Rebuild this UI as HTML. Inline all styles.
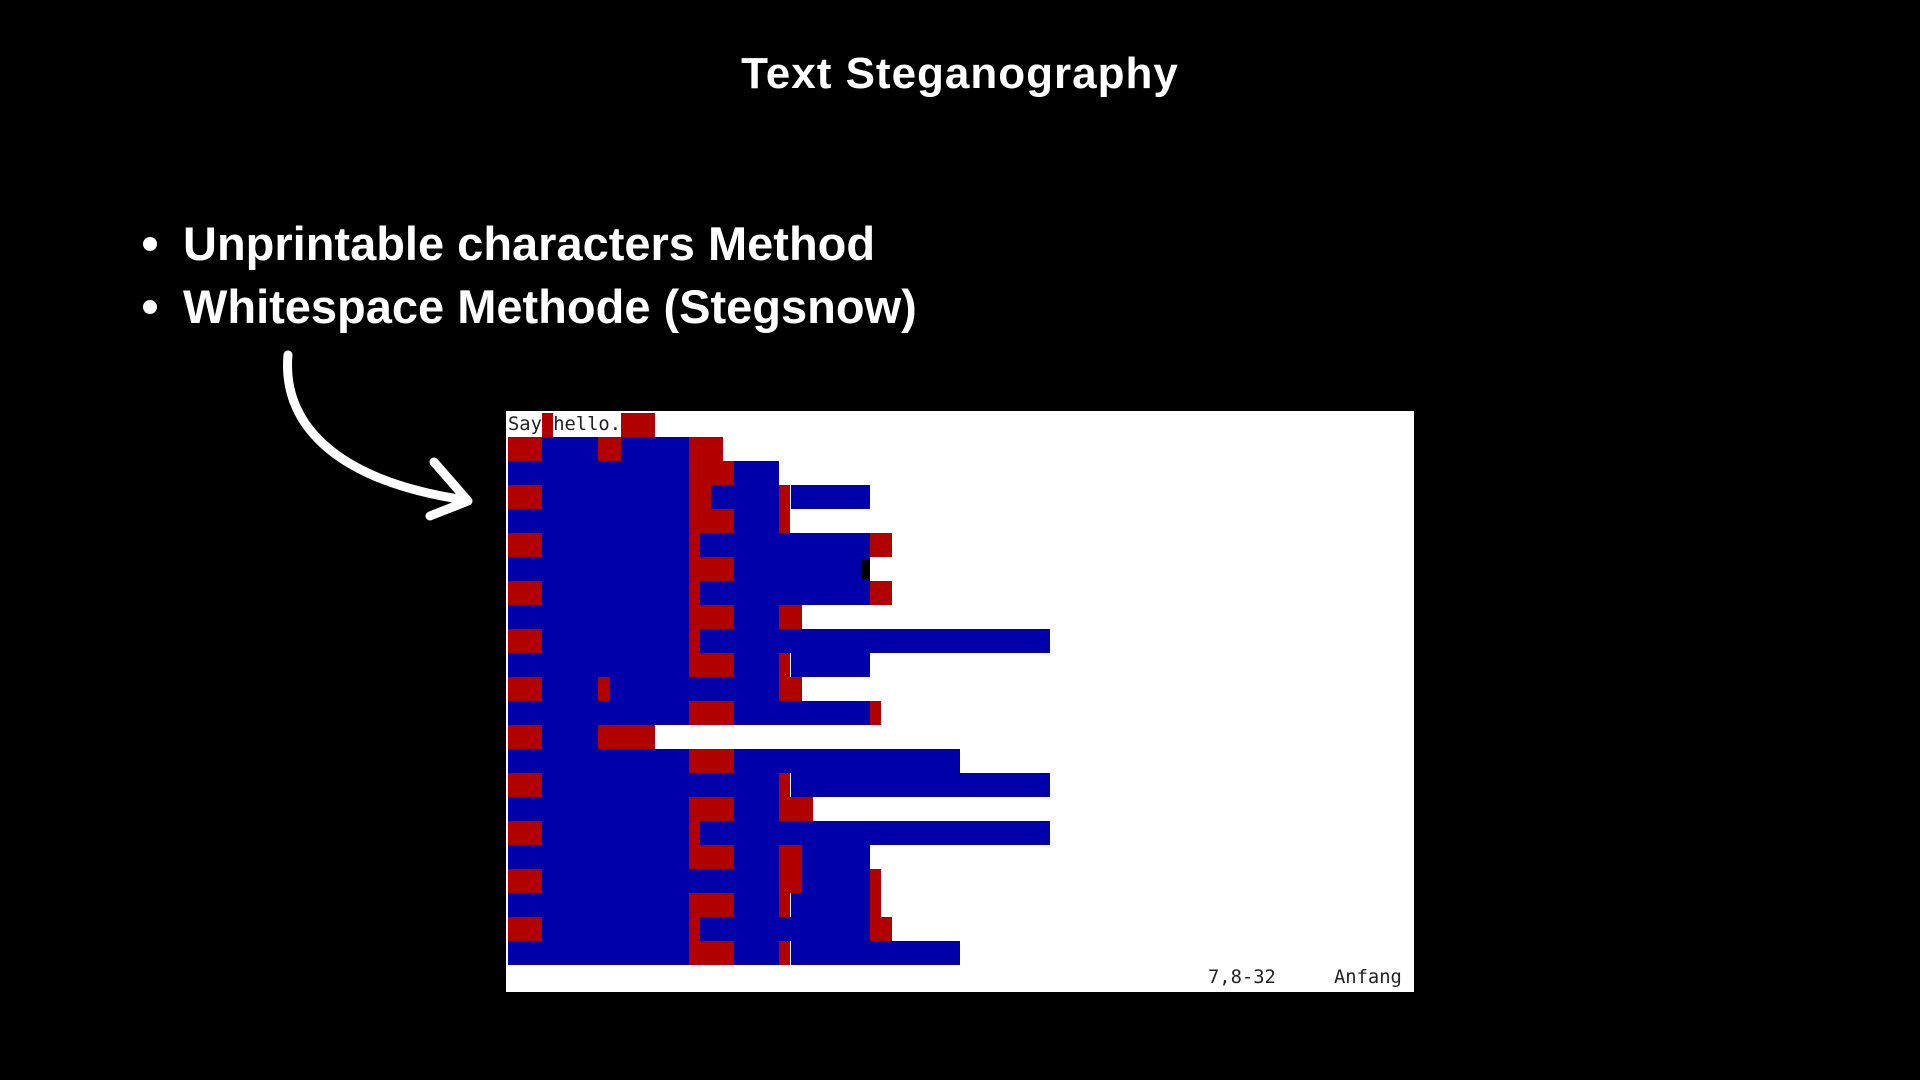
<!DOCTYPE html>
<html><head><meta charset="utf-8">
<style>
html,body{margin:0;padding:0;background:#000;width:1920px;height:1080px;overflow:hidden}
#title{position:absolute;left:0;width:1920px;top:49px;text-align:center;color:#fff;font:bold 44px "Liberation Sans",sans-serif;letter-spacing:1px}
.bullet{position:absolute;left:143px;color:#fff;font:bold 47px "Liberation Sans",sans-serif;white-space:nowrap}
.bullet span.dot{display:inline-block;width:14px;height:14px;border-radius:50%;background:#fff;margin-right:26px;vertical-align:middle;position:relative;top:-4px}
#screen{position:absolute;left:506px;top:411px;width:908px;height:581px;background:#fff}
.cell{position:absolute;height:24px}
.txt{position:absolute;font:18.8px "DejaVu Sans Mono","Liberation Mono",monospace;color:#222;line-height:24px}
</style></head>
<body>
<div id="title">Text Steganography</div>
<div class="bullet" style="top:216px"><span class="dot"></span>Unprintable characters Method</div>
<div class="bullet" style="top:279px"><span class="dot"></span>Whitespace Methode (Stegsnow)</div>
<svg style="position:absolute;left:0;top:0" width="1920" height="1080">
<path d="M288 355 C282 420 330 480 465 500" stroke="#fff" stroke-width="9" fill="none" stroke-linecap="round"/>
<path d="M434 462 L468 501 L430 516" stroke="#fff" stroke-width="9" fill="none" stroke-linecap="round" stroke-linejoin="round"/>
</svg>
<div id="screen"></div>
<script>
// rows of whitespace segments: [type, length in chars]; t=text, r=space(red), b=tab(blue), k=cursor (overlays previous cell)
const rowSegments = [
 [["t","Say"],["r",1],["t","hello."],["r",3]],
 [["r",3],["b",5],["r",2],["b",6],["r",3]],
 [["b",16],["r",4],["b",4]],
 [["r",3],["b",13],["r",2],["b",6],["r",1],["b",7]],
 [["b",16],["r",4],["b",4],["r",1]],
 [["r",3],["b",13],["r",1],["b",15],["r",2]],
 [["b",16],["r",4],["b",12],["k",1]],
 [["r",3],["b",13],["r",1],["b",15],["r",2]],
 [["b",16],["r",4],["b",4],["r",2]],
 [["r",3],["b",13],["r",1],["b",31]],
 [["b",16],["r",4],["b",4],["r",1],["b",7]],
 [["r",3],["b",5],["r",1],["b",15],["r",2]],
 [["b",16],["r",4],["b",12],["r",1]],
 [["r",3],["b",5],["r",5]],
 [["b",16],["r",4],["b",20]],
 [["r",3],["b",21],["r",1],["b",23]],
 [["b",16],["r",4],["b",4],["r",3]],
 [["r",3],["b",13],["r",1],["b",31]],
 [["b",16],["r",4],["b",4],["r",2],["b",6]],
 [["r",3],["b",21],["r",2],["b",6],["r",1]],
 [["b",16],["r",4],["b",4],["r",1],["b",7],["r",1]],
 [["r",3],["b",13],["r",1],["b",15],["r",2]],
 [["b",16],["r",4],["b",4],["r",1],["b",15]]
];
const statusPos = "7,8-32";
const statusLabel = "Anfang";
const CW = 11.3, RH = 24, X0 = 2, Y0 = 2;
const colors = {r:"#b00000", b:"#0000aa", k:"#000"};
const scr = document.getElementById('screen');
rowSegments.forEach((row, ri) => {
  let col = 0;
  row.forEach(seg => {
    const [type, v] = seg;
    const len = type === "t" ? v.length : v;
    const el = document.createElement('div');
    if (type === "t") {
      el.className = 'txt';
      el.textContent = v;
      
    } else {
      el.className = 'cell';
      el.style.background = colors[type];
      
    }
    
    el.style.left = (X0 + col * CW) + 'px';
    el.style.top = (Y0 + ri * RH) + 'px';
    el.style.width = (len * CW) + 'px';
    if (type === 'k') { el.style.width = (CW * 0.8) + 'px'; el.style.left = (X0 + (col - 1) * CW + CW*0.2) + 'px'; el.style.height='20px'; el.style.top=(Y0+ri*RH+2)+'px'; }
    scr.appendChild(el);
    if (type !== 'k') col += len;
  });
});
const s1 = document.createElement('div');
s1.className = 'txt'; s1.textContent = statusPos;


s1.style.left = '702px'; s1.style.top = '555px';
scr.appendChild(s1);
const s2 = document.createElement('div');
s2.className = 'txt'; s2.textContent = statusLabel;


s2.style.left = '828px'; s2.style.top = '555px';
scr.appendChild(s2);
</script>
</body></html>
